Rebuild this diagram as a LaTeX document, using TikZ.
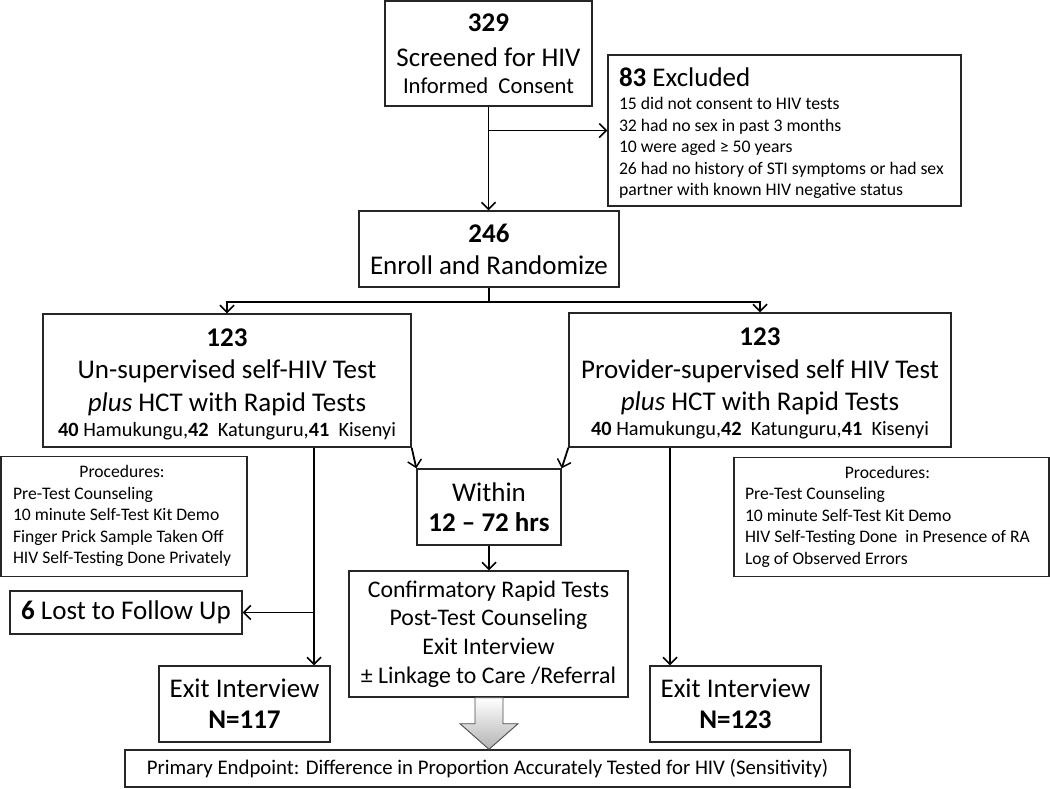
\documentclass[tikz,border=0pt]{standalone}
\usepackage{fontspec}
\setmainfont{Carlito}
\usetikzlibrary{arrows.meta,calc}
\begin{document}
\begin{tikzpicture}[x=1pt,y=-1pt,
 box/.style={draw=black!85,line width=1.4pt,inner sep=0pt,align=center},
 lbox/.style={draw=black!85,line width=1.4pt,inner ysep=0pt},
 arr/.style={line width=1.8pt,-{Straight Barb[length=7pt,width=14pt,line width=1.5pt]}},
 ln/.style={line width=1.8pt}]
\useasboundingbox (0,0) rectangle (1050,788);

\node[box,minimum width=207pt,minimum height=105pt,font=\fontsize{27}{35}\selectfont] (scr) at (488.5,53.5)
 {\textbf{329}\\Screened for HIV\\[-8pt]{\fontsize{22.7}{27}\selectfont Informed\ \ Consent}};

\node[lbox,inner xsep=11pt,minimum width=353pt,minimum height=151pt,font=\fontsize{17.7}{21.5}\selectfont] (exc) at (784.5,130.5)
 {\makebox[331pt][l]{\begin{tabular}{@{}l@{}}\fontsize{27}{27}\selectfont\rule{0pt}{28pt}\textbf{83} Excluded\\[1.5pt]
 15 did not consent to HIV tests\\32 had no sex in past 3 months\\10 were aged ≥ 50 years\\
 26 had no history of STI symptoms or had sex\\partner with known HIV negative status\end{tabular}}};

\node[box,minimum width=260pt,minimum height=76pt,font=\fontsize{27}{32}\selectfont] (enr) at (489,249)
 {\textbf{246}\\Enroll and Randomize};

\node[box,minimum width=368pt,minimum height=133pt,font=\fontsize{27}{32.5}\selectfont] (lft) at (227,380.5)
 {\rule{0pt}{25pt}\textbf{123}\\Un-supervised self-HIV Test\\\textit{plus} HCT with Rapid Tests\\[-7.5pt]{\fontsize{20.3}{25}\selectfont\textbf{40} Hamukungu,\textbf{42}\ \ Katunguru,\textbf{41}\ \ Kisenyi}};

\node[box,minimum width=382pt,minimum height=134pt,font=\fontsize{27}{32.5}\selectfont] (rgt) at (760,380)
 {\rule{0pt}{25pt}\textbf{123}\\Provider-supervised self HIV Test\\\textit{plus} HCT with Rapid Tests\\[-7.5pt]{\fontsize{20.3}{25}\selectfont\textbf{40} Hamukungu,\textbf{42}\ \ Katunguru,\textbf{41}\ \ Kisenyi}};

\node[lbox,inner xsep=12pt,minimum width=246pt,minimum height=120pt,font=\fontsize{17.6}{21.5}\selectfont] (lp) at (124,516.5)
 {\makebox[222pt][l]{\begin{tabular}{@{}l@{}}\multicolumn{1}{@{}c@{}}{Procedures:}\\Pre-Test Counseling\\10 minute Self-Test Kit Demo\\Finger Prick Sample Taken Off\\HIV Self-Testing Done Privately\end{tabular}}};

\node[lbox,inner xsep=11pt,minimum width=315pt,minimum height=119pt,font=\fontsize{17.6}{21.5}\selectfont] (rp) at (891.5,517)
 {\makebox[293pt][l]{\begin{tabular}{@{}l@{}}\multicolumn{1}{@{}c@{}}{Procedures:}\\Pre-Test Counseling\\10 minute Self-Test Kit Demo\\HIV Self-Testing Done\ \ in Presence of RA\\Log of Observed Errors\end{tabular}}};

\node[box,minimum width=144pt,minimum height=76pt,font=\fontsize{27}{30}\selectfont] (win) at (489,507)
 {Within\\\textbf{12 – 72 hrs}};

\node[box,minimum width=279pt,minimum height=126pt,font=\fontsize{23.8}{28.7}\selectfont] (cnf) at (488.5,634)
 {Confirmatory Rapid Tests\\Post-Test Counseling\\Exit Interview\\± Linkage to Care /Referral};

\node[box,minimum width=232pt,minimum height=43pt,font=\fontsize{27}{30}\selectfont] (lost) at (126,612.5)
 {\textbf{6} Lost to Follow Up};

\node[box,minimum width=171pt,minimum height=76pt,font=\fontsize{27}{31}\selectfont] (lex) at (244.5,704)
 {Exit Interview\\\textbf{N=117}};

\node[box,minimum width=171pt,minimum height=76pt,font=\fontsize{27}{31}\selectfont] (rex) at (735.5,704)
 {Exit Interview\\\textbf{N=123}};

\node[box,minimum width=725pt,minimum height=37pt,font=\fontsize{20.8}{24}\selectfont] (ep) at (487.5,768.5)
 {Primary Endpoint: Difference in Proportion Accurately Tested for HIV (Sensitivity)};

% connectors
\draw[arr] (scr.south) -- (scr.south |- enr.north);
\draw[arr] (scr.south |- exc.west) -- (exc.west);
\coordinate (spl) at ($(enr.south)+(0,14)$);
\draw[ln] (enr.south) -- (spl);
\draw[arr] (spl) -| (lft.north);
\draw[arr] (spl) -| (rgt.north);
\draw[arr] (lft.south east) -- (win.north west);
\draw[arr] (rgt.south west) -- (win.north east);
\draw[arr] (win.south) -- (win.south |- cnf.north);
\coordinate (lt) at ($(lft.south)+(87,0)$);
\draw[arr] (lt) -- (lt |- lex.north);
\draw[arr] (lt |- lost.east) -- (lost.east);
\coordinate (rt) at ($(rgt.south)+(-90,0)$);
\draw[arr] (rt) -- (rt |- rex.north);

% fat arrow
\shade[top color=white,bottom color=gray!60,draw=black!70,line width=0.9pt]
 ($(cnf.south)+(-13.5,0)$) -- ($(cnf.south)+(14.5,0)$) -- ($(cnf.south)+(14.5,26)$) -- ($(cnf.south)+(29.5,26)$)
 -- ($(cnf.south |- ep.north)+(0.5,0)$) -- ($(cnf.south)+(-28.5,26)$) -- ($(cnf.south)+(-13.5,26)$) -- cycle;
\end{tikzpicture}
\end{document}
